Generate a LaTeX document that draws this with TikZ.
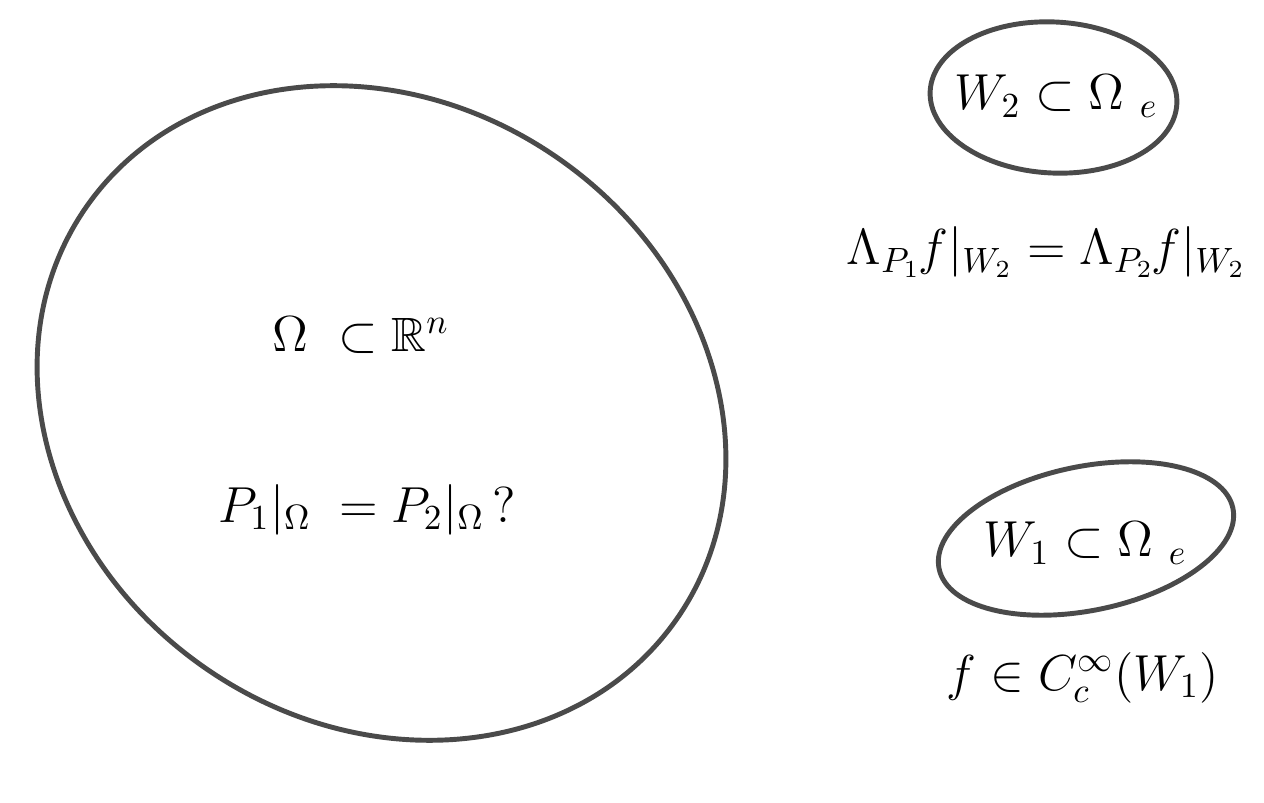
\documentclass[tikz,border=0pt]{standalone}
\usepackage{amsmath,amssymb}
\usepackage{tikz}
\usetikzlibrary{shapes.geometric,positioning}
\definecolor{domaingray}{RGB}{74,74,74}

\tikzset{
    setshape/.style={draw=domaingray, line width=1.4pt, ellipse, inner sep=0pt},
    mathlabel/.style={anchor=base, inner sep=0pt, font=\fontsize{13.7}{16.5}\selectfont}
}

\begin{document}
\begin{tikzpicture}
    \useasboundingbox (0,0) rectangle (12.64,8.02);

    % Domain Omega
    \node[setshape, minimum width=7.2cm, minimum height=6.2cm, rotate=-35] (omega) at (3.815,3.89) {};
    \node[mathlabel] (omegalab) at (3.61,4.50) {$\Omega\ \subset\mathbb{R}^n$};
    \node[mathlabel] (question) at (3.675,2.80) {$P_1|_{\Omega}\;= P_2|_{\Omega}\mkern3mu?$};

    % Measurement set W2
    \node[setshape, minimum width=2.47cm, minimum height=1.51cm, rotate=-3] (wtwo) at (10.535,7.045) {};
    \node[mathlabel] (wtwolab) at (10.565,6.92) {$W_2\subset\Omega\ {}_e$};
    \node[mathlabel] (dtn) at (10.465,5.37) {$\Lambda_{P_1}\mkern-1mu f|_{W_2}=\Lambda_{P_2}\mkern-1mu f|_{W_2}$};

    % Source set W1
    \node[setshape, minimum width=3.0cm, minimum height=1.44cm, rotate=11.6] (wone) at (10.86,2.635) {};
    \node[mathlabel] (wonelab) at (10.855,2.45) {$W_1\subset\Omega\ {}_e$};
    \node[mathlabel] (fsupp) at (10.825,1.12) {$f\in C_c^{\infty}(W_1)$};
\end{tikzpicture}
\end{document}
